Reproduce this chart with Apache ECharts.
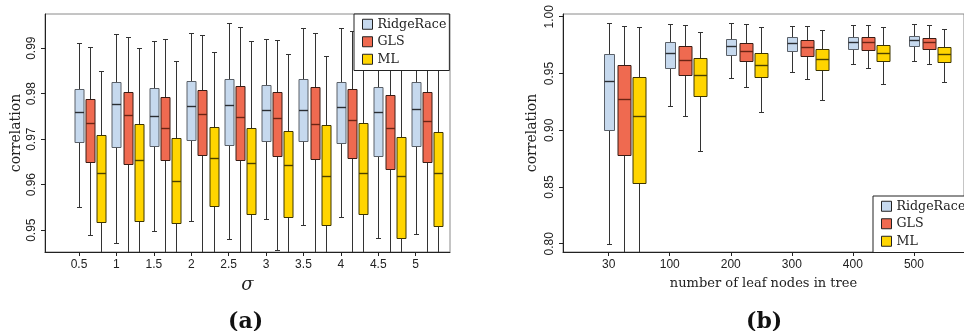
<!DOCTYPE html>
<html>
<head>
<meta charset="utf-8">
<script src="https://cdn.jsdelivr.net/npm/echarts@6/dist/echarts.min.js"></script>
<style>
  html, body { margin: 0; padding: 0; background: #fff; }
  #chart { width: 964px; height: 331px; }
</style>
</head>
<body>
<div id="chart"></div>
<script>
// Box statistics, each row: [lower whisker, Q1, median, Q3, upper whisker]

// (a) correlation vs. noise level sigma
const sigmaTicks = [0.5, 1, 1.5, 2, 2.5, 3, 3.5, 4, 4.5, 5];
const sigmaRidgeRace = [
  [0.9551, 0.9693, 0.9760, 0.9810, 0.9911],
  [0.9471, 0.9682, 0.9778, 0.9825, 0.9930],
  [0.9498, 0.9685, 0.9750, 0.9812, 0.9916],
  [0.9520, 0.9699, 0.9773, 0.9828, 0.9934],
  [0.9480, 0.9688, 0.9776, 0.9833, 0.9955],
  [0.9524, 0.9695, 0.9765, 0.9820, 0.9920],
  [0.9512, 0.9696, 0.9763, 0.9832, 0.9944],
  [0.9529, 0.9691, 0.9770, 0.9826, 0.9944],
  [0.9482, 0.9663, 0.9759, 0.9815, 0.9930],
  [0.9491, 0.9686, 0.9766, 0.9825, 0.9935]
];
const sigmaGLS = [
  [0.9489, 0.9650, 0.9736, 0.9788, 0.9902],
  [0.9400, 0.9645, 0.9753, 0.9804, 0.9924],
  [0.9390, 0.9655, 0.9724, 0.9793, 0.9920],
  [0.9410, 0.9666, 0.9755, 0.9808, 0.9928],
  [0.9380, 0.9655, 0.9748, 0.9817, 0.9946],
  [0.9456, 0.9662, 0.9747, 0.9804, 0.9918],
  [0.9400, 0.9656, 0.9734, 0.9815, 0.9934],
  [0.9395, 0.9659, 0.9743, 0.9810, 0.9938],
  [0.9390, 0.9634, 0.9725, 0.9796, 0.9920],
  [0.9400, 0.9650, 0.9739, 0.9804, 0.9925]
];
const sigmaML = [
  [0.9350, 0.9518, 0.9626, 0.9710, 0.9849],
  [0.9320, 0.9520, 0.9655, 0.9734, 0.9900],
  [0.9330, 0.9515, 0.9608, 0.9703, 0.9872],
  [0.9340, 0.9553, 0.9658, 0.9726, 0.9891],
  [0.9330, 0.9536, 0.9648, 0.9724, 0.9915],
  [0.9340, 0.9529, 0.9643, 0.9718, 0.9888],
  [0.9310, 0.9512, 0.9618, 0.9732, 0.9882],
  [0.9330, 0.9535, 0.9626, 0.9735, 0.9885],
  [0.9300, 0.9483, 0.9620, 0.9705, 0.9880],
  [0.9320, 0.9510, 0.9626, 0.9715, 0.9885]
];
const sigmaYTicks = [0.95, 0.96, 0.97, 0.98, 0.99];

// (b) correlation vs. number of leaf nodes
const leafCounts = ['30', '100', '200', '300', '400', '500'];
const leafRidgeRace = [
  [0.8000, 0.9004, 0.9430, 0.9674, 0.9944],
  [0.9213, 0.9548, 0.9680, 0.9774, 0.9935],
  [0.9457, 0.9659, 0.9742, 0.9803, 0.9947],
  [0.9512, 0.9695, 0.9765, 0.9824, 0.9921],
  [0.9580, 0.9718, 0.9774, 0.9824, 0.9927],
  [0.9612, 0.9742, 0.9791, 0.9833, 0.9935]
];
const leafGLS = [
  [0.7000, 0.8784, 0.9278, 0.9577, 0.9921],
  [0.9122, 0.9483, 0.9621, 0.9739, 0.9930],
  [0.9383, 0.9612, 0.9700, 0.9765, 0.9938],
  [0.9451, 0.9656, 0.9736, 0.9797, 0.9915],
  [0.9551, 0.9706, 0.9774, 0.9818, 0.9930],
  [0.9583, 0.9712, 0.9774, 0.9812, 0.9930]
];
const leafML = [
  [0.6500, 0.8537, 0.9125, 0.9466, 0.9906],
  [0.8816, 0.9304, 0.9486, 0.9633, 0.9865],
  [0.9163, 0.9465, 0.9577, 0.9677, 0.9906],
  [0.9263, 0.9533, 0.9627, 0.9718, 0.9883],
  [0.9404, 0.9609, 0.9683, 0.9747, 0.9912],
  [0.9421, 0.9601, 0.9671, 0.9730, 0.9891]
];
const leafYTicks = [0.80, 0.85, 0.90, 0.95, 1.00];

const methodNames = ['RidgeRace', 'GLS', 'ML'];
const fillColors = ['#c6d9ee', '#ef6a50', '#ffd500'];
const edgeColors = ['#5a6068', '#3a1c14', '#3d3500'];
const medianColors = ['#2a2e33', '#6a2414', '#4a4000'];
const whiskerColor = '#333333';

const SANS = '"Liberation Sans", Arial, sans-serif';
const SERIF = '"DejaVu Serif", "Liberation Serif", serif';

// Builds a renderItem that draws one box-and-whisker glyph per data row.
// posOf maps (group index, method slot) to an x value on the axis.
function boxRenderer(posOf, slot, halfW, capHalf) {
  return function (params, api) {
    const x = posOf(api.value(0), slot);
    const pLo = api.coord([x, api.value(1)]);
    const pQ1 = api.coord([x, api.value(2)]);
    const pMd = api.coord([x, api.value(3)]);
    const pQ3 = api.coord([x, api.value(4)]);
    const pHi = api.coord([x, api.value(5)]);
    const cx = Math.round(pLo[0]) + 0.5;
    const yQ1 = Math.round(pQ1[1]) + 0.5;
    const yQ3 = Math.round(pQ3[1]) + 0.5;
    const yMd = Math.round(pMd[1]) + 0.5;
    const yLo = Math.round(pLo[1]) + 0.5;
    const yHi = Math.round(pHi[1]) + 0.5;
    const wStyle = { stroke: whiskerColor, lineWidth: 1 };
    return {
      type: 'group',
      children: [
        { type: 'line', shape: { x1: cx, y1: yQ1, x2: cx, y2: yLo }, style: wStyle },
        { type: 'line', shape: { x1: cx, y1: yQ3, x2: cx, y2: yHi }, style: wStyle },
        { type: 'line', shape: { x1: cx - capHalf, y1: yLo, x2: cx + capHalf, y2: yLo }, style: wStyle },
        { type: 'line', shape: { x1: cx - capHalf, y1: yHi, x2: cx + capHalf, y2: yHi }, style: wStyle },
        {
          type: 'rect',
          shape: { x: cx - halfW, y: yQ3, width: halfW * 2, height: yQ1 - yQ3 },
          style: { fill: fillColors[slot], stroke: edgeColors[slot], lineWidth: 1 }
        },
        {
          type: 'line',
          shape: { x1: cx - halfW, y1: yMd, x2: cx + halfW, y2: yMd },
          style: { stroke: medianColors[slot], lineWidth: 1.4 }
        }
      ]
    };
  };
}

function toRows(stats) {
  return stats.map((s, i) => [i].concat(s));
}

const sigmaPos = (g, slot) => sigmaTicks[g] + slot * 0.15;
const leafPos = (g, slot) => g + slot * 0.25;

const sigmaSets = [sigmaRidgeRace, sigmaGLS, sigmaML];
const leafSets = [leafRidgeRace, leafGLS, leafML];

const series = [];
methodNames.forEach((name, k) => {
  series.push({
    type: 'custom', name: name, xAxisIndex: 0, yAxisIndex: 0, clip: true,
    itemStyle: { color: fillColors[k] },
    encode: { x: 0, y: [1, 2, 3, 4, 5] },
    renderItem: boxRenderer(sigmaPos, k, 4.5, 2.5),
    data: toRows(sigmaSets[k])
  });
});
methodNames.forEach((name, k) => {
  series.push({
    type: 'custom', name: name, xAxisIndex: 1, yAxisIndex: 1, clip: true,
    itemStyle: { color: fillColors[k] },
    encode: { x: 0, y: [1, 2, 3, 4, 5] },
    renderItem: boxRenderer(leafPos, k, k === 0 ? 5 : 6.5, 2.5),
    data: toRows(leafSets[k])
  });
});

const axisLineStyle = { show: true, onZero: false, lineStyle: { color: '#222', width: 1 } };
const tickStyle = { show: true, length: 4, inside: false, lineStyle: { color: '#222' } };
const tickLabel = { color: '#222', fontFamily: SANS, fontSize: 12 };

const legendBase = {
  orient: 'vertical',
  icon: 'rect',
  itemWidth: 10,
  itemHeight: 10,
  itemGap: 3,
  backgroundColor: '#fff',
  borderColor: '#222',
  borderWidth: 1,
  borderRadius: 0,
  selectedMode: false,
  textStyle: { fontFamily: SERIF, fontSize: 12.6, color: '#222', lineHeight: 14.5 },
  data: methodNames.map((n, k) => ({
    name: n,
    itemStyle: { color: fillColors[k], borderColor: '#222', borderWidth: 1 }
  }))
};

const option = {
  animation: false,
  backgroundColor: '#fff',
  grid: [
    { left: 45, right: 514, top: 14, bottom: 79, show: true, borderColor: '#8a8a8a', borderWidth: 1 },
    { left: 563, right: -10, top: 14, bottom: 79, show: true, borderColor: '#8a8a8a', borderWidth: 1 }
  ],
  xAxis: [
    {
      type: 'value', gridIndex: 0, min: 0.0455, max: 5.4586,
      axisLine: axisLineStyle, splitLine: { show: false },
      axisTick: Object.assign({ customValues: sigmaTicks }, tickStyle),
      axisLabel: Object.assign({ customValues: sigmaTicks, margin: 7, formatter: v => String(v) }, tickLabel),
      name: 'σ', nameLocation: 'middle', nameGap: 24,
      nameTextStyle: { fontFamily: SERIF, fontStyle: 'italic', fontSize: 18, color: '#222' }
    },
    {
      type: 'value', gridIndex: 1, min: -0.748, max: 5.82,
      axisLine: axisLineStyle, splitLine: { show: false },
      axisTick: Object.assign({ customValues: [0, 1, 2, 3, 4, 5] }, tickStyle),
      axisLabel: Object.assign({ customValues: [0, 1, 2, 3, 4, 5], margin: 7, formatter: v => leafCounts[Math.round(v)] }, tickLabel),
      name: 'number of leaf nodes in tree', nameLocation: 'middle', nameGap: 25,
      nameTextStyle: { fontFamily: SERIF, fontSize: 13, color: '#222' }
    }
  ],
  yAxis: [
    {
      type: 'value', gridIndex: 0, min: 0.9452, max: 0.9975,
      axisLine: axisLineStyle, splitLine: { show: false },
      axisTick: Object.assign({ customValues: sigmaYTicks }, tickStyle),
      axisLabel: Object.assign({ customValues: sigmaYTicks, rotate: 90, margin: 7, formatter: v => v.toFixed(2) }, tickLabel),
      name: 'correlation', nameLocation: 'middle', nameGap: 22,
      nameTextStyle: { fontFamily: SERIF, fontSize: 14, color: '#222' }
    },
    {
      type: 'value', gridIndex: 1, min: 0.7927, max: 1.0024,
      axisLine: axisLineStyle, splitLine: { show: false },
      axisTick: Object.assign({ customValues: leafYTicks }, tickStyle),
      axisLabel: Object.assign({ customValues: leafYTicks, rotate: 90, margin: 7, formatter: v => v.toFixed(2) }, tickLabel),
      name: 'correlation', nameLocation: 'middle', nameGap: 24,
      nameTextStyle: { fontFamily: SERIF, fontSize: 14, color: '#222' }
    }
  ],
  legend: [
    Object.assign({ left: 354, top: 14, padding: [3, 3, 4, 8] }, legendBase),
    Object.assign({ left: 873, top: 196, padding: [3, 3, 4, 8] }, legendBase)
  ],
  graphic: [
    {
      type: 'text', left: 228, top: 311,
      style: { text: '(a)', font: 'bold 22px ' + SERIF, fill: '#111', textAlign: 'center' }
    },
    {
      type: 'text', left: 746, top: 311,
      style: { text: '(b)', font: 'bold 22px ' + SERIF, fill: '#111', textAlign: 'center' }
    }
  ],
  series: series
};

const chart = echarts.init(document.getElementById('chart'), null, { renderer: 'canvas' });
chart.setOption(option);
</script>
</body>
</html>
